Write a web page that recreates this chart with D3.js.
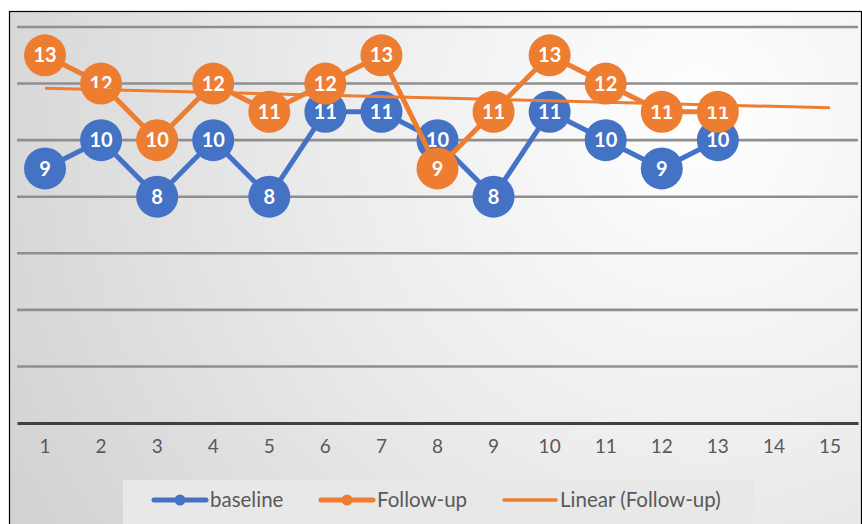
<!DOCTYPE html>
<html>
<head>
<meta charset="utf-8">
<script src="https://cdn.jsdelivr.net/npm/d3@7/dist/d3.min.js"></script>
<style>
  html, body { margin: 0; padding: 0; background: #ffffff; }
  svg { display: block; }
</style>
</head>
<body>
<svg id="chart" width="862" height="524"></svg>
<script>
// Session numbers shown on the category axis
const categories = ["1","2","3","4","5","6","7","8","9","10","11","12","13","14","15"];
// Scores per session
const baseline = [9, 10, 8, 10, 8, 11, 11, 10, 8, 11, 10, 9, 10];
const followUp = [13, 12, 10, 12, 11, 12, 13, 9, 11, 13, 12, 11, 11];
const seriesNames = ["baseline", "Follow-up", "Linear (Follow-up)"];
const gridValues = [2, 4, 6, 8, 10, 12, 14];

const BLUE = "#4472C4", ORANGE = "#ED7D31";
const FONT = "Lato, 'Open Sans', sans-serif";

const svg = d3.select("#chart");
const W = 862, H = 524;

// Background gradient of the chart area
const defs = svg.append("defs");
const grad = defs.append("radialGradient")
  .attr("id", "bg").attr("gradientUnits", "userSpaceOnUse")
  .attr("cx", 700).attr("cy", 120).attr("r", 820);
grad.append("stop").attr("offset", "0%").attr("stop-color", "#ffffff");
grad.append("stop").attr("offset", "45%").attr("stop-color", "#ececec");
grad.append("stop").attr("offset", "100%").attr("stop-color", "#d0d0d0");

svg.append("rect").attr("x", 9.5).attr("y", 11.5).attr("width", W - 10).attr("height", H)
  .attr("fill", "url(#bg)").attr("stroke", "#000").attr("stroke-width", 1.2);

const plotLeft = 17, plotRight = 858;
const x = d3.scaleBand().domain(categories).range([plotLeft, plotRight]);
const cx = i => x(categories[i]) + x.bandwidth() / 2;
const y = d3.scaleLinear().domain([0, 14]).range([423, 27]);

// Horizontal gridlines
svg.append("g").selectAll("line").data(gridValues).join("line")
  .attr("x1", plotLeft).attr("x2", plotRight)
  .attr("y1", d => y(d)).attr("y2", d => y(d))
  .attr("stroke", "#8f8f8f").attr("stroke-width", 2.6);

// Category axis
const xAxis = d3.axisBottom(x).tickSize(0).tickPadding(17);
const axisG = svg.append("g").attr("transform", `translate(0,${y(0)})`).call(xAxis);
axisG.select(".domain").attr("stroke", "#404040").attr("stroke-width", 3.2);
axisG.selectAll("text").attr("font-family", FONT).attr("font-size", 19)
  .attr("fill", "#595959");

// Series lines, markers and value labels
function drawSeries(values, color) {
  const g = svg.append("g");
  const line = d3.line().x((d, i) => cx(i)).y(d => y(d));
  g.append("path").datum(values).attr("d", line)
    .attr("fill", "none").attr("stroke", color).attr("stroke-width", 5)
    .attr("stroke-linejoin", "round");
  g.selectAll("circle").data(values).join("circle")
    .attr("cx", (d, i) => cx(i)).attr("cy", d => y(d)).attr("r", 21)
    .attr("fill", color);
  g.selectAll("text").data(values).join("text")
    .attr("x", (d, i) => cx(i)).attr("y", d => y(d)).attr("dy", "0.36em")
    .attr("text-anchor", "middle").attr("fill", "#fff")
    .attr("font-family", FONT).attr("font-weight", "bold").attr("font-size", 20)
    .text(d => d);
}
drawSeries(baseline, BLUE);
drawSeries(followUp, ORANGE);

// Least-squares trend of the follow-up series, forecast to the last category
const n = followUp.length;
const xs = d3.range(1, n + 1);
const mx = d3.mean(xs), my = d3.mean(followUp);
const slope = d3.sum(xs, (v, i) => (v - mx) * (followUp[i] - my)) / d3.sum(xs, v => (v - mx) ** 2);
const intercept = my - slope * mx;
const trendAt = k => intercept + slope * k;
svg.append("line")
  .attr("x1", cx(0)).attr("y1", y(trendAt(1)))
  .attr("x2", cx(categories.length - 1)).attr("y2", y(trendAt(categories.length)))
  .attr("stroke", ORANGE).attr("stroke-width", 3);

// Legend
const lg = svg.append("g");
lg.append("rect").attr("x", 123).attr("y", 480).attr("width", 631).attr("height", 44)
  .attr("fill", "#e8e8e8");
const items = [
  { name: seriesNames[0], color: BLUE, x0: 154, marker: true },
  { name: seriesNames[1], color: ORANGE, x0: 321, marker: true },
  { name: seriesNames[2], color: ORANGE, x0: 504, marker: false }
];
const ly = 500;
items.forEach(it => {
  lg.append("line").attr("x1", it.x0).attr("x2", it.x0 + 52).attr("y1", ly).attr("y2", ly)
    .attr("stroke", it.color).attr("stroke-width", it.marker ? 5 : 3.5)
    .attr("stroke-linecap", "round");
  if (it.marker) lg.append("circle").attr("cx", it.x0 + 26).attr("cy", ly).attr("r", 5.5)
    .attr("fill", it.color);
  lg.append("text").attr("x", it.x0 + 56).attr("y", ly).attr("dy", "0.35em")
    .attr("font-family", FONT).attr("font-size", 20.5).attr("fill", "#595959")
    .text(it.name);
});
</script>
</body>
</html>
